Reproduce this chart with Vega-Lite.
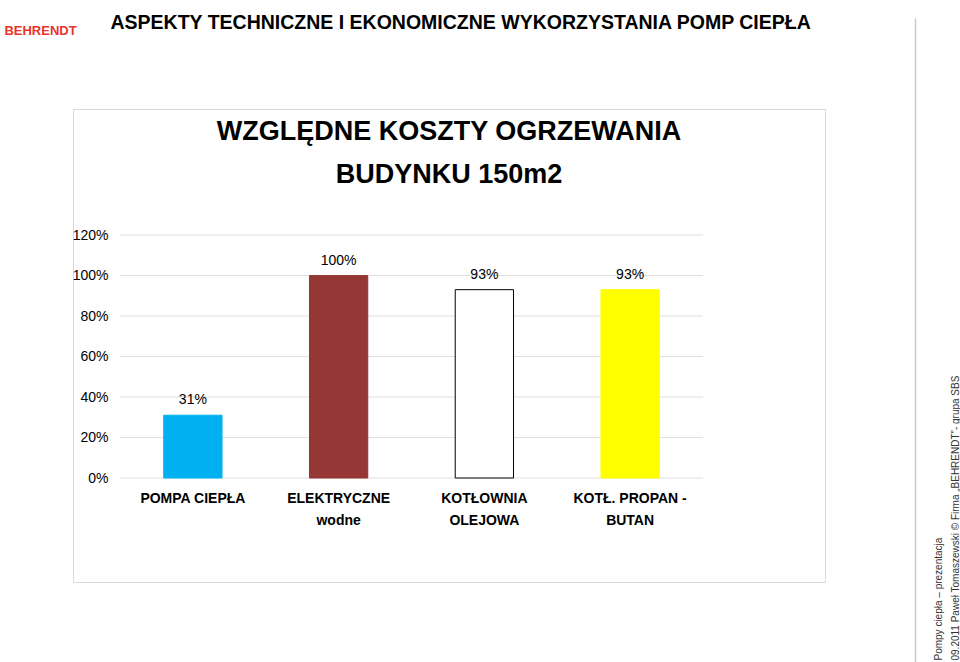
{
  "$schema": "https://vega.github.io/schema/vega-lite/v6.json",
  "width": 752,
  "height": 473,
  "autosize": {"type": "none"},
  "padding": {"left": 73, "top": 109, "right": 135, "bottom": 80},
  "background": "white",
  "config": {"view": {"stroke": "#D9D9D9", "strokeWidth": 1}, "font": "Liberation Sans"},
  "title": {
    "text": ["WZGLĘDNE KOSZTY OGRZEWANIA", "BUDYNKU 150m2"],
    "font": "Liberation Sans",
    "fontSize": 27,
    "fontWeight": "bold",
    "color": "black",
    "lineHeight": 43,
    "anchor": "middle",
    "frame": "group",
    "offset": 0,
    "dy": 177
  },
  "data": {
    "values": [
      {"cat": "POMPA CIEPŁA", "v": 0.31},
      {"cat": "ELEKTRYCZNE\nwodne", "v": 1.0},
      {"cat": "KOTŁOWNIA\nOLEJOWA", "v": 0.93},
      {"cat": "KOTŁ. PROPAN -\nBUTAN", "v": 0.93}
    ]
  },
  "layer": [
    {
      "data": {"values": [{"g": 0}, {"g": 0.2}, {"g": 0.4}, {"g": 0.6}, {"g": 0.8}, {"g": 1.0}, {"g": 1.2}]},
      "mark": {"type": "rule", "color": "#E0E0E0", "strokeWidth": 1},
      "encoding": {
        "x": {"datum": 0, "type": "quantitative", "scale": {"domain": [0, 1], "range": [47, 630]}, "axis": null},
        "x2": {"datum": 1},
        "y": {
          "field": "g",
          "type": "quantitative",
          "scale": {"domain": [-0.9086, 2.2716], "range": [553, -91], "nice": false, "zero": false},
          "axis": {
            "orient": "right",
            "offset": 90,
            "labels": false,
            "ticks": false,
            "grid": false,
            "domain": true,
            "domainColor": "#C8C8C8",
            "domainWidth": 1.5,
            "title": ["Pompy ciepła – prezentacja", "09.2011 Paweł Tomaszewski  © Firma „BEHRENDT”- grupa SBS"],
            "titleAngle": 270,
            "titleX": 26,
            "titleY": 551,
            "titleAlign": "left",
            "titleBaseline": "alphabetic",
            "titleFont": "Liberation Sans",
            "titleFontSize": 10,
            "titleFontWeight": "normal",
            "titleLineHeight": 17,
            "titleColor": "#333333"
          }
        }
      }
    },
    {
      "mark": {"type": "bar", "strokeWidth": 1},
      "encoding": {
        "x": {
          "field": "cat",
          "type": "nominal",
          "sort": null,
          "scale": {"range": [47, 630], "paddingInner": 0.6, "paddingOuter": 0.3},
          "axis": {
            "orient": "bottom",
            "offset": -104,
            "domain": false,
            "ticks": false,
            "labelAngle": 0,
            "labelPadding": 13,
            "labelFont": "Liberation Sans",
            "labelFontSize": 14,
            "labelFontWeight": "bold",
            "labelColor": "black",
            "labelLineHeight": 22,
            "labelExpr": "split(datum.label, '\\n')",
            "title": "BEHRENDT",
            "titleX": -33,
            "titleY": -448,
            "titleAlign": "center",
            "titleBaseline": "middle",
            "titleFont": "Liberation Sans",
            "titleFontSize": 13,
            "titleFontWeight": "bold",
            "titleColor": "#E8342A"
          }
        },
        "y": {
          "field": "v",
          "type": "quantitative",
          "scale": {"domain": [-0.9086, 2.2716], "range": [553, -91], "nice": false, "zero": false},
          "axis": {
            "orient": "left",
            "offset": -47,
            "values": [0, 0.2, 0.4, 0.6, 0.8, 1.0, 1.2],
            "format": ".0%",
            "domain": false,
            "ticks": false,
            "grid": false,
            "labelPadding": 12,
            "labelFont": "Liberation Sans",
            "labelFontSize": 14,
            "labelColor": "black",
            "title": "ASPEKTY TECHNICZNE I EKONOMICZNE WYKORZYSTANIA POMP CIEPŁA",
            "titleAngle": 0,
            "titleX": -10,
            "titleY": -81,
            "titleAlign": "left",
            "titleBaseline": "alphabetic",
            "titleFont": "Liberation Sans",
            "titleFontSize": 19.5,
            "titleFontWeight": "bold",
            "titleColor": "black"
          }
        },
        "fill": {
          "field": "cat",
          "type": "nominal",
          "sort": null,
          "scale": {
            "domain": ["POMPA CIEPŁA", "ELEKTRYCZNE\nwodne", "KOTŁOWNIA\nOLEJOWA", "KOTŁ. PROPAN -\nBUTAN"],
            "range": ["#00B0F0", "#953735", "#FFFFFF", "#FFFF00"]
          },
          "legend": null
        },
        "stroke": {
          "field": "cat",
          "type": "nominal",
          "sort": null,
          "scale": {
            "domain": ["POMPA CIEPŁA", "ELEKTRYCZNE\nwodne", "KOTŁOWNIA\nOLEJOWA", "KOTŁ. PROPAN -\nBUTAN"],
            "range": ["#00B0F0", "#953735", "#000000", "#FFFF00"]
          },
          "legend": null
        }
      }
    },
    {
      "mark": {"type": "text", "dy": -11, "baseline": "alphabetic", "fontSize": 14, "color": "black", "font": "Liberation Sans"},
      "encoding": {
        "x": {
          "field": "cat",
          "type": "nominal",
          "sort": null,
          "scale": {"range": [47, 630], "paddingInner": 0.6, "paddingOuter": 0.3},
          "axis": null
        },
        "y": {
          "field": "v",
          "type": "quantitative",
          "scale": {"domain": [-0.9086, 2.2716], "range": [553, -91], "nice": false, "zero": false},
          "axis": null
        },
        "text": {"field": "v", "type": "quantitative", "format": ".0%"}
      }
    }
  ],
  "resolve": {"scale": {"x": "independent"}, "axis": {"y": "independent", "x": "independent"}}
}
